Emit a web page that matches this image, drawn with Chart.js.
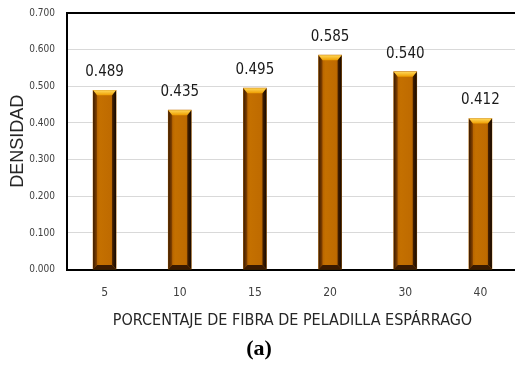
<!DOCTYPE html>
<html>
<head>
<meta charset="utf-8">
<script src="https://cdn.jsdelivr.net/npm/chart.js@4"></script>
<style>
  html, body { margin: 0; padding: 0; background: #fff; overflow: hidden; width: 515px; height: 365px; }
  #wrap { position: relative; width: 515px; height: 365px; overflow: hidden; }
  canvas { display: block; }
</style>
</head>
<body>
<div id="wrap"><canvas id="c" width="518" height="365"></canvas></div>
<script>
// Fibre percentage categories and measured density
const categories = ['5', '10', '15', '20', '30', '40'];
const density = [0.489, 0.435, 0.495, 0.585, 0.540, 0.412];
const yTickLabels = ['0.000', '0.100', '0.200', '0.300', '0.400', '0.500', '0.600', '0.700'];
const xTitle = 'PORCENTAJE DE FIBRA DE PELADILLA ESPÁRRAGO';
const yTitle = 'DENSIDAD';
const panelLabel = '(a)';

const NARROW = "'Liberation Sans Narrow', 'DejaVu Sans Condensed', 'Liberation Sans', sans-serif";

// Bevelled bar faces plus value labels on top of each bar
const bevelBars = {
  id: 'bevelBars',
  afterDatasetsDraw(chart) {
    const ctx = chart.ctx;
    const meta = chart.getDatasetMeta(0);
    const values = chart.data.datasets[0].data;
    meta.data.forEach((el, i) => {
      const { x, y, base, width } = el.getProps(['x', 'y', 'base', 'width'], true);
      const l = x - width / 2, r = x + width / 2, t = y, b = base;
      const s = 4;
      ctx.save();
      // face
      const g = ctx.createLinearGradient(l, 0, r, 0);
      g.addColorStop(0, '#A85800');
      g.addColorStop(0.3, '#C47000');
      g.addColorStop(0.75, '#BF6B00');
      g.addColorStop(1, '#A05400');
      ctx.fillStyle = g;
      ctx.fillRect(l + s, t + s, width - 2 * s, b - t - 2 * s);
      // left bevel
      const gl = ctx.createLinearGradient(l, 0, l + s, 0);
      gl.addColorStop(0, '#3a1a00');
      gl.addColorStop(1, '#8a4600');
      ctx.fillStyle = gl;
      ctx.beginPath();
      ctx.moveTo(l, t); ctx.lineTo(l + s, t + s); ctx.lineTo(l + s, b - s); ctx.lineTo(l, b);
      ctx.closePath(); ctx.fill();
      // right bevel
      const gr = ctx.createLinearGradient(r - s, 0, r, 0);
      gr.addColorStop(0, '#4a2200');
      gr.addColorStop(1, '#140800');
      ctx.fillStyle = gr;
      ctx.beginPath();
      ctx.moveTo(r, t); ctx.lineTo(r - s, t + s); ctx.lineTo(r - s, b - s); ctx.lineTo(r, b);
      ctx.closePath(); ctx.fill();
      // top bevel
      const gt = ctx.createLinearGradient(0, t, 0, t + s + 1);
      gt.addColorStop(0, '#FFD85A');
      gt.addColorStop(1, '#EE9E00');
      ctx.fillStyle = gt;
      ctx.beginPath();
      ctx.moveTo(l, t); ctx.lineTo(r, t); ctx.lineTo(r - s, t + s + 1); ctx.lineTo(l + s, t + s + 1);
      ctx.closePath(); ctx.fill();
      // bottom bevel
      ctx.fillStyle = '#3a1a00';
      ctx.beginPath();
      ctx.moveTo(l, b); ctx.lineTo(r, b); ctx.lineTo(r - s, b - s); ctx.lineTo(l + s, b - s);
      ctx.closePath(); ctx.fill();
      // value label
      ctx.fillStyle = '#1a1a1a';
      ctx.font = "15px " + NARROW;
      ctx.textAlign = 'center';
      ctx.textBaseline = 'middle';
      ctx.fillText(values[i].toFixed(3), x, t - 18);
      ctx.restore();
    });
  }
};

new Chart(document.getElementById('c'), {
  type: 'bar',
  data: {
    labels: categories,
    datasets: [{
      data: density,
      backgroundColor: '#BF6C00',
      borderWidth: 0,
      barThickness: 23
    }]
  },
  options: {
    responsive: false,
    animation: false,
    layout: { autoPadding: false, padding: { top: 13, right: 0, left: 0, bottom: 0 } },
    plugins: {
      legend: { display: false },
      tooltip: { enabled: false },
      title: {
        display: true,
        position: 'bottom',
        text: panelLabel,
        color: '#000',
        font: { family: "'Liberation Serif', serif", size: 22, weight: 'bold', lineHeight: 1.2 },
        padding: { top: 0, bottom: 2 }
      }
    },
    scales: {
      x: {
        grid: { display: false, drawTicks: false },
        border: { display: true, color: '#000', width: 2 },
        ticks: { color: '#404040', padding: 16, font: { family: NARROW, size: 12 } },
        title: {
          display: true, text: xTitle, color: '#262626',
          font: { family: NARROW, size: 16, lineHeight: 1.2 },
          padding: { top: 0, bottom: 6 }
        },
        afterFit(scale) { scale.height = 67; }
      },
      y: {
        min: 0, max: 0.7,
        grid: {
          drawTicks: false,
          color: (c) => (c.tick && c.tick.value >= 0.699 ? '#000' : '#d9d9d9'),
          lineWidth: (c) => (c.tick && c.tick.value >= 0.699 ? 2 : 1)
        },
        border: { display: true, color: '#000', width: 2 },
        ticks: {
          stepSize: 0.1, color: '#404040', padding: 12,
          font: { family: NARROW, size: 10 },
          callback: (v, i) => yTickLabels[i]
        },
        title: {
          display: true, text: yTitle, color: '#262626',
          font: { family: "'Liberation Sans', Arial, sans-serif", size: 18, lineHeight: 1.2 },
          padding: { top: 7, bottom: 0 }
        },
        afterFit(scale) { scale.width = 67; scale.paddingTop = 0; scale.paddingBottom = 0; }
      }
    }
  },
  plugins: [bevelBars]
});
</script>
</body>
</html>
